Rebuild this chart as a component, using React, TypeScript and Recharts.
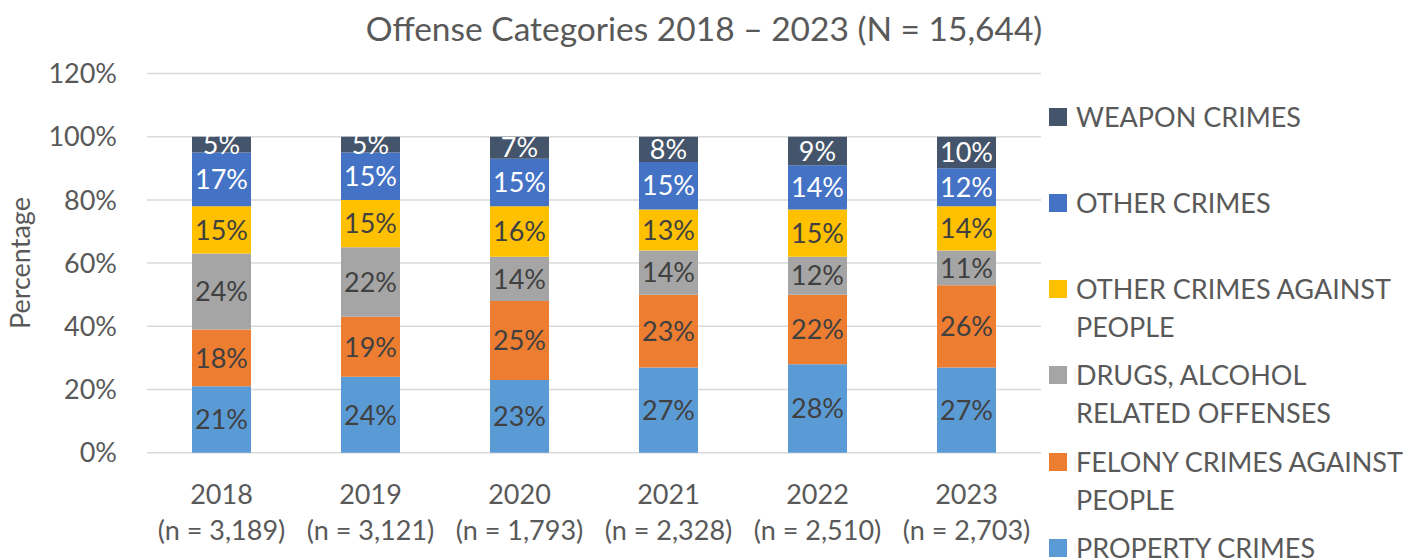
import { BarChart, Bar, XAxis, YAxis, CartesianGrid, LabelList } from "recharts";

const years = ["2018", "2019", "2020", "2021", "2022", "2023"];
const counts = ["3,189", "3,121", "1,793", "2,328", "2,510", "2,703"];

const propertyCrimes = [21, 24, 23, 27, 28, 27];
const felonyCrimes = [18, 19, 25, 23, 22, 26];
const drugsAlcohol = [24, 22, 14, 14, 12, 11];
const otherAgainstPeople = [15, 15, 16, 13, 15, 14];
const otherCrimes = [17, 15, 15, 15, 14, 12];
const weaponCrimes = [5, 5, 7, 8, 9, 10];

const yTicks = [0, 20, 40, 60, 80, 100, 120];

const FONT = "Lato, 'Open Sans', sans-serif";
const TXT = "#595959";
const FS = 27;

// bottom to top
const series = [
  { key: "property", lines: ["PROPERTY CRIMES"], color: "#5B9BD5", label: "#404040" },
  { key: "felony", lines: ["FELONY CRIMES AGAINST", "PEOPLE"], color: "#ED7D31", label: "#404040" },
  { key: "drugs", lines: ["DRUGS, ALCOHOL", "RELATED OFFENSES"], color: "#A5A5A5", label: "#404040" },
  { key: "otherPeople", lines: ["OTHER CRIMES AGAINST", "PEOPLE"], color: "#FFC000", label: "#404040" },
  { key: "other", lines: ["OTHER CRIMES"], color: "#4472C4", label: "#ffffff" },
  { key: "weapon", lines: ["WEAPON CRIMES"], color: "#44546A", label: "#ffffff" },
];

const data = years.map((year, i) => ({
  year,
  count: counts[i],
  property: propertyCrimes[i],
  felony: felonyCrimes[i],
  drugs: drugsAlcohol[i],
  otherPeople: otherAgainstPeople[i],
  other: otherCrimes[i],
  weapon: weaponCrimes[i],
}));

const capOff = FS * 0.36;

const XTick = (props: any) => {
  const { x, y, payload, index } = props;
  return (
    <g>
      <text x={x} y={y + 42 + capOff} textAnchor="middle" fill={TXT} fontSize={FS} fontFamily={FONT}>
        {payload.value}
      </text>
      <text x={x} y={y + 78 + capOff} textAnchor="middle" fill={TXT} fontSize={FS} fontFamily={FONT}>
        {`(n = ${counts[index]})`}
      </text>
    </g>
  );
};

const YTick = (props: any) => {
  const { x, y, payload } = props;
  return (
    <text x={x} y={y + capOff} textAnchor="end" fill={TXT} fontSize={FS} fontFamily={FONT}>
      {`${payload.value}%`}
    </text>
  );
};

const makeLabel = (color: string) => (props: any) => {
  const { x, y, width, height, value } = props;
  return (
    <text
      x={x + width / 2}
      y={y + height / 2 + capOff}
      textAnchor="middle"
      fill={color}
      fontSize={FS}
      fontFamily={FONT}
    >
      {`${value}%`}
    </text>
  );
};

function Legend() {
  const items = [...series].reverse();
  return (
    <div style={{ position: "absolute", left: 1049, top: 97.5, fontFamily: FONT, fontSize: FS, color: TXT }}>
      {items.map((s) => (
        <div key={s.key} style={{ height: 86.3, display: "flex", alignItems: "flex-start" }}>
          <div style={{ width: 18, height: 18, background: s.color, marginTop: 10, flexShrink: 0 }} />
          <div style={{ marginLeft: 9, lineHeight: "38px", whiteSpace: "nowrap" }}>
            {s.lines.map((l) => (
              <div key={l}>{l}</div>
            ))}
          </div>
        </div>
      ))}
    </div>
  );
}

export default function App() {
  return (
    <div style={{ position: "absolute", left: 0, top: 0, width: 1408, height: 558, background: "#fff", overflow: "hidden" }}>
      <div
        style={{
          position: "absolute",
          left: 0,
          top: 7,
          width: 1408,
          textAlign: "center",
          fontFamily: FONT,
          fontSize: 33.5,
          lineHeight: "42px",
          color: TXT,
        }}
      >
        Offense Categories 2018 – 2023 (N = 15,644)
      </div>
      <BarChart
        width={1408}
        height={558}
        data={data}
        margin={{ top: 73.5, right: 367, bottom: 45.3, left: 27 }}
        barSize={59}
      >
        <CartesianGrid vertical={false} stroke="#d9d9d9" strokeWidth={1.5} />
        <XAxis
          dataKey="year"
          axisLine={false}
          tickLine={false}
          tickSize={0}
          tickMargin={0}
          height={60}
          tick={<XTick />}
          interval={0}
        />
        <YAxis
          domain={[0, 120]}
          ticks={yTicks}
          axisLine={false}
          tickLine={false}
          tickSize={0}
          tickMargin={30}
          width={120}
          tick={<YTick />}
          label={(p: any) => {
            const vb = p.viewBox || {};
            const cy = (vb.y ?? 73.5) + (vb.height ?? 379.2) / 2;
            return (
              <text
                x={30}
                y={cy}
                transform={`rotate(-90, 30, ${cy})`}
                textAnchor="middle"
                fill={TXT}
                fontSize={FS}
                fontFamily={FONT}
              >
                Percentage
              </text>
            );
          }}
        />
        {series.map((s) => (
          <Bar key={s.key} dataKey={s.key} stackId="a" fill={s.color} isAnimationActive={false}>
            <LabelList dataKey={s.key} content={makeLabel(s.label)} />
          </Bar>
        ))}
      </BarChart>
      <Legend />
    </div>
  );
}
